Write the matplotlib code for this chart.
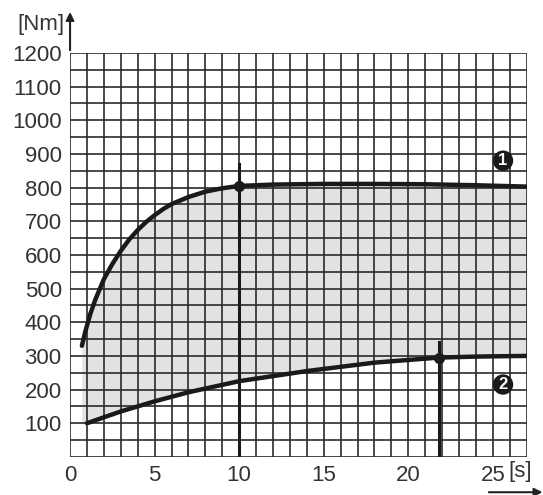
import numpy as np
import matplotlib.pyplot as plt

plt.rcParams['font.family'] = ['Liberation Sans', 'DejaVu Sans']

# kurve 1 (oben) und kurve 2 (unten)
t1 = [0.7, 0.9, 1.2, 1.5, 2.0, 2.5, 3.0, 3.5, 4.0, 4.5, 5.0, 5.5, 6.0, 7.0, 8.0, 9.0,
      10.0, 12.0, 15.0, 18.0, 21.0, 24.0, 27.0]
m1 = [330, 372, 425, 468, 528, 573, 612, 646, 674, 698, 718, 736, 751, 772, 788, 798,
      805, 809, 811, 811, 810, 807, 803]
t2 = [1.0, 3.0, 5.0, 7.0, 10.0, 14.0, 18.0, 21.8, 24.0, 27.0]
m2 = [100, 135, 165, 192, 225, 255, 280, 295, 298, 300]

pts_t = [10, 21.8]
pts_m = [805, 295]
vl_top = [870, 340]

xticks = [0, 5, 10, 15, 20, 25]
yticks = [100, 200, 300, 400, 500, 600, 700, 800, 900, 1000, 1100, 1200]

fig = plt.figure(figsize=(5.43, 4.95), dpi=100)
ax = fig.add_axes([0.129, 0.077, 0.841, 0.816])

ax.set_xlim(0, 27)
ax.set_ylim(0, 1200)

# gitter
for x in range(0, 28):
    ax.axvline(x, color='#2a2a2a', lw=1.2, zorder=1)
for y in range(0, 1201, 50):
    ax.axhline(y, color='#2a2a2a', lw=1.2, zorder=1)

# graue flaeche zwischen den kurven
xs = np.linspace(0.7, 27, 400)
y1 = np.interp(xs, t1, m1)
y2 = np.interp(xs, t2, m2)
ax.fill_between(xs, y2, y1, color='#d9d9d9', alpha=0.75, lw=0, zorder=0.5)

ax.plot(t1, m1, color='#1a1a1a', lw=3.2, solid_capstyle='round', solid_joinstyle='round', zorder=3)
ax.plot(t2, m2, color='#1a1a1a', lw=3.2, solid_capstyle='round', solid_joinstyle='round', zorder=3)

for t, top in zip(pts_t, vl_top):
    ax.plot([t, t], [0, top], color='#1a1a1a', lw=2.2, zorder=3)
ax.plot(pts_t, pts_m, 'o', color='#1a1a1a', ms=7, zorder=4)

# nummern
for num, (tx, ty) in zip(['1', '2'], [(25.6, 880), (25.6, 215)]):
    ax.text(tx, ty, num, ha='center', va='center', color='white', fontsize=12,
            fontweight='bold', zorder=6,
            bbox=dict(boxstyle='circle,pad=0.16', fc='#1a1a1a', ec='none'))

for s in ax.spines.values():
    s.set_visible(False)
ax.set_xticks(xticks)
ax.set_yticks(yticks)
ax.tick_params(length=0, labelsize=16, colors='#333333', pad=6)

# achsen-pfeile und einheiten
ax.annotate('', xy=(0, 1330), xytext=(0, 1200), annotation_clip=False,
            arrowprops=dict(arrowstyle='-|>', color='#222222', lw=1.5, mutation_scale=12))
ax.text(-0.35, 1285, '[Nm]', ha='right', va='center', fontsize=16, color='#333333',
        clip_on=False)
ax.text(25.9, -42, '[s]', ha='left', va='center', fontsize=16, color='#333333',
        clip_on=False)
ax.annotate('', xy=(28.1, -105), xytext=(24.6, -105), annotation_clip=False,
            arrowprops=dict(arrowstyle='-|>', color='#222222', lw=1.5, mutation_scale=12))

fig.savefig('out.png', dpi=100)
